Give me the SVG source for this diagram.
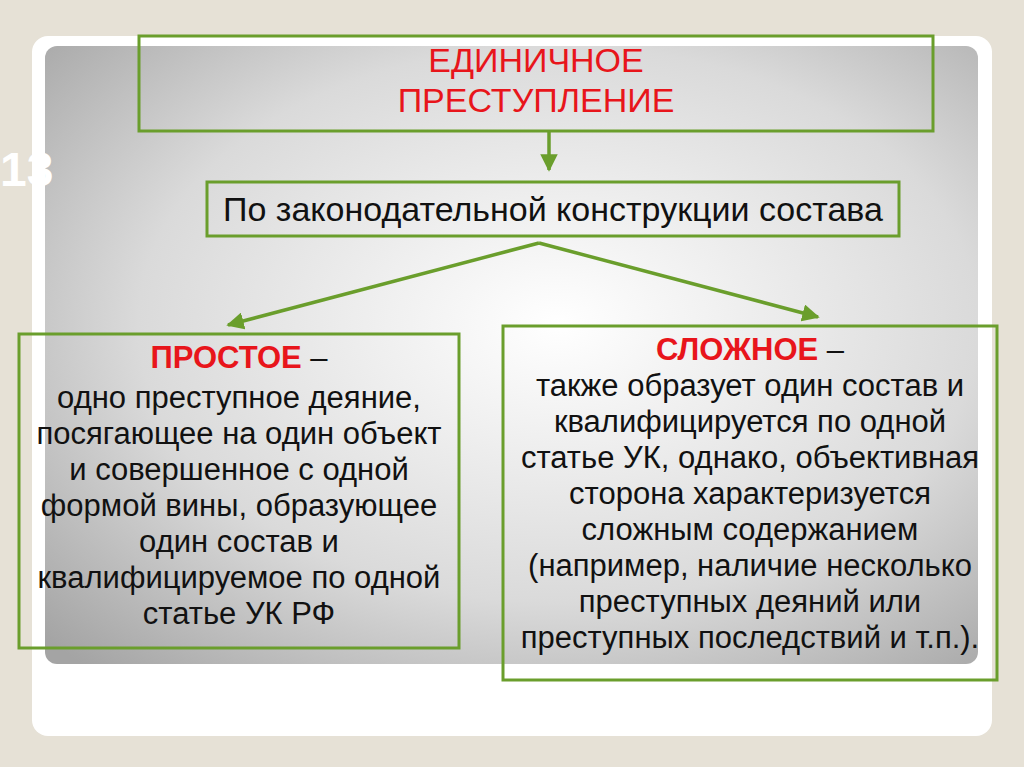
<svg xmlns="http://www.w3.org/2000/svg" width="1024" height="767" viewBox="0 0 1024 767">
<defs>
<radialGradient id="bg" cx="0.55" cy="0.45" r="0.75">
<stop offset="0" stop-color="#ffffff"/><stop offset="0.6" stop-color="#dadada"/><stop offset="1" stop-color="#a4a4a4"/>
</radialGradient>
<marker id="ah" viewBox="0 0 10 10" refX="9" refY="5" markerWidth="5" markerHeight="5" orient="auto-start-reverse" markerUnits="strokeWidth">
<path d="M0,0 L10,5 L0,10 z" fill="#6a9e2c"/>
</marker>
<style>
.box{fill:none;stroke:#6a9e2c;stroke-width:3}
.t{font-family:"Liberation Sans",Arial,sans-serif;font-size:31px;fill:#111;text-anchor:middle}
.big{font-size:34px}
.r{fill:#e8151b}
.c{stroke:#6a9e2c;stroke-width:3.5;fill:none;marker-end:url(#ah)}
</style>
</defs>
<rect width="1024" height="767" fill="#e6e1d6"/>
<rect x="32" y="36" width="960" height="700" rx="16" fill="#ffffff"/>
<rect x="45" y="46" width="933" height="618" rx="12" fill="url(#bg)"/>
<text x="0" y="186" font-family="Liberation Sans,Arial,sans-serif" font-weight="bold" font-size="48" fill="#ffffff">13</text>
<g id="connectors">
<line class="c" x1="549" y1="132" x2="549" y2="170"/>
<line class="c" x1="539" y1="243" x2="228" y2="325"/>
<line class="c" x1="539" y1="243" x2="818" y2="317"/>
</g>
<g id="n1"><rect class="box" x="139" y="36" width="794" height="95"/>
<text class="t big r" x="536" y="72">ЕДИНИЧНОЕ</text><text class="t big r" x="536" y="112">ПРЕСТУПЛЕНИЕ</text></g>
<g id="n2"><rect class="box" x="207" y="182" width="692" height="54"/>
<text class="t big" x="553" y="221">По законодательной конструкции состава</text></g>
<g id="n3"><rect class="box" x="19" y="334" width="440" height="314"/>
<text class="t" x="239" y="368"><tspan class="r" font-weight="bold">ПРОСТОЕ</tspan> –</text>
<text class="t" x="239" y="408">одно преступное деяние,</text>
<text class="t" x="239" y="444">посягающее на один объект</text>
<text class="t" x="239" y="480">и совершенное с одной</text>
<text class="t" x="239" y="516">формой вины, образующее</text>
<text class="t" x="239" y="552">один состав и</text>
<text class="t" x="239" y="588">квалифицируемое по одной</text>
<text class="t" x="239" y="624">статье УК РФ</text></g>
<g id="n4"><rect class="box" x="503" y="326" width="494" height="354"/>
<text class="t" x="750" y="360"><tspan class="r" font-weight="bold">СЛОЖНОЕ</tspan> –</text>
<text class="t" x="750" y="396">также образует один состав и</text>
<text class="t" x="750" y="432">квалифицируется по одной</text>
<text class="t" x="750" y="468">статье УК, однако, объективная</text>
<text class="t" x="750" y="504">сторона характеризуется</text>
<text class="t" x="750" y="540">сложным содержанием</text>
<text class="t" x="750" y="576">(например, наличие несколько</text>
<text class="t" x="750" y="612">преступных деяний или</text>
<text class="t" x="750" y="648">преступных последствий и т.п.).</text></g>
</svg>
